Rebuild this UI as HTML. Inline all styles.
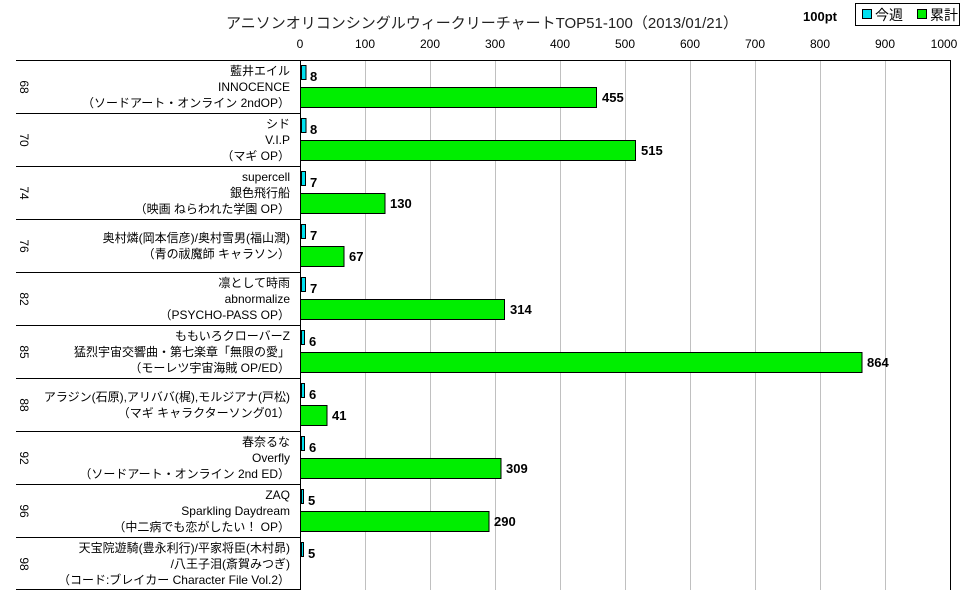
<!DOCTYPE html>
<html><head><meta charset="utf-8"><style>
body{margin:0;background:#fff;}
svg text{font-family:"Liberation Sans","Noto Sans CJK JP",sans-serif;}
</style></head><body>
<svg width="970" height="604" xmlns="http://www.w3.org/2000/svg">
<text x="482" y="28" font-size="15" text-anchor="middle" fill="#222">アニソンオリコンシングルウィークリーチャートTOP51-100（2013/01/21）</text>
<text x="820" y="21" font-size="13" font-weight="bold" text-anchor="middle">100pt</text>
<rect x="855.5" y="3.5" width="104" height="22" fill="#fff" stroke="#000"/>
<rect x="862.5" y="9.5" width="9" height="9" fill="#00e0f0" stroke="#000"/>
<text x="875" y="20" font-size="14">今週</text>
<rect x="917.5" y="9.5" width="9" height="9" fill="#00ee00" stroke="#000"/>
<text x="930" y="20" font-size="14">累計</text>
<g font-size="12" text-anchor="middle" fill="#000">
<text x="300" y="48">0</text><text x="365" y="48">100</text><text x="430" y="48">200</text><text x="495" y="48">300</text><text x="560" y="48">400</text><text x="625" y="48">500</text><text x="690" y="48">600</text><text x="755" y="48">700</text><text x="820" y="48">800</text><text x="885" y="48">900</text><text x="944" y="48">1000</text>
</g>
<g stroke="#c0c0c0">
<line x1="365.5" y1="60" x2="365.5" y2="590"/><line x1="430.5" y1="60" x2="430.5" y2="590"/><line x1="495.5" y1="60" x2="495.5" y2="590"/><line x1="560.5" y1="60" x2="560.5" y2="590"/><line x1="625.5" y1="60" x2="625.5" y2="590"/><line x1="690.5" y1="60" x2="690.5" y2="590"/><line x1="755.5" y1="60" x2="755.5" y2="590"/><line x1="820.5" y1="60" x2="820.5" y2="590"/><line x1="885.5" y1="60" x2="885.5" y2="590"/>
</g>
<g stroke="#000">
<line x1="16" y1="60.5" x2="950" y2="60.5"/>
<line x1="300.5" y1="60" x2="300.5" y2="590"/>
<line x1="950.5" y1="60" x2="950.5" y2="590"/>
<line x1="16" y1="113.5" x2="300" y2="113.5"/><line x1="16" y1="166.5" x2="300" y2="166.5"/><line x1="16" y1="219.5" x2="300" y2="219.5"/><line x1="16" y1="272.5" x2="300" y2="272.5"/><line x1="16" y1="325.5" x2="300" y2="325.5"/><line x1="16" y1="378.5" x2="300" y2="378.5"/><line x1="16" y1="431.5" x2="300" y2="431.5"/><line x1="16" y1="484.5" x2="300" y2="484.5"/><line x1="16" y1="537.5" x2="300" y2="537.5"/><line x1="16" y1="589.5" x2="300" y2="589.5"/>
</g>
<g font-size="12" fill="#000" text-anchor="end">
<text x="290" y="75">藍井エイル</text><text x="290" y="91">INNOCENCE</text><text x="290" y="107">（ソードアート・オンライン 2ndOP）</text>
<text x="290" y="128">シド</text><text x="290" y="144">V.I.P</text><text x="290" y="160">（マギ OP）</text>
<text x="290" y="181">supercell</text><text x="290" y="197">銀色飛行船</text><text x="290" y="213">（映画 ねらわれた学園 OP）</text>
<text x="290" y="242">奥村燐(岡本信彦)/奥村雪男(福山潤)</text><text x="290" y="258">（青の祓魔師 キャラソン）</text>
<text x="290" y="287">凛として時雨</text><text x="290" y="303">abnormalize</text><text x="290" y="319">（PSYCHO-PASS OP）</text>
<text x="290" y="340">ももいろクローバーZ</text><text x="290" y="356">猛烈宇宙交響曲・第七楽章「無限の愛」</text><text x="290" y="372">（モーレツ宇宙海賊 OP/ED）</text>
<text x="290" y="401">アラジン(石原),アリババ(梶),モルジアナ(戸松)</text><text x="290" y="417">（マギ キャラクターソング01）</text>
<text x="290" y="446">春奈るな</text><text x="290" y="462">Overfly</text><text x="290" y="478">（ソードアート・オンライン 2nd ED）</text>
<text x="290" y="499">ZAQ</text><text x="290" y="515">Sparkling Daydream</text><text x="290" y="531">（中二病でも恋がしたい！ OP）</text>
<text x="290" y="552">天宝院遊騎(豊永利行)/平家将臣(木村昴)</text><text x="290" y="568">/八王子泪(斎賀みつぎ)</text><text x="290" y="584">（コード:ブレイカー Character File Vol.2）</text>
</g>
<g font-size="12" fill="#000" text-anchor="middle">
<text transform="translate(20,87) rotate(90)">68</text>
<text transform="translate(20,140) rotate(90)">70</text>
<text transform="translate(20,193) rotate(90)">74</text>
<text transform="translate(20,246) rotate(90)">76</text>
<text transform="translate(20,299) rotate(90)">82</text>
<text transform="translate(20,352) rotate(90)">85</text>
<text transform="translate(20,405) rotate(90)">88</text>
<text transform="translate(20,458) rotate(90)">92</text>
<text transform="translate(20,511) rotate(90)">96</text>
<text transform="translate(20,564) rotate(90)">98</text>
</g>
<g stroke="#000" stroke-width="1">
<rect x="301.5" y="65.5" width="4.5" height="14" fill="#00e0f0"/><rect x="300.5" y="87.5" width="296" height="20" fill="#00ee00"/>
<rect x="301.5" y="118.5" width="4.5" height="14" fill="#00e0f0"/><rect x="300.5" y="140.5" width="335" height="20" fill="#00ee00"/>
<rect x="301.5" y="171.5" width="4" height="14" fill="#00e0f0"/><rect x="300.5" y="193.5" width="84.5" height="20" fill="#00ee00"/>
<rect x="301.5" y="224.5" width="4" height="14" fill="#00e0f0"/><rect x="300.5" y="246.5" width="43.5" height="20" fill="#00ee00"/>
<rect x="301.5" y="277.5" width="4" height="14" fill="#00e0f0"/><rect x="300.5" y="299.5" width="204" height="20" fill="#00ee00"/>
<rect x="301.5" y="330.5" width="3" height="14" fill="#00e0f0"/><rect x="300.5" y="352.5" width="561.5" height="20" fill="#00ee00"/>
<rect x="301.5" y="383.5" width="3" height="14" fill="#00e0f0"/><rect x="300.5" y="405.5" width="26.5" height="20" fill="#00ee00"/>
<rect x="301.5" y="436.5" width="3" height="14" fill="#00e0f0"/><rect x="300.5" y="458.5" width="200.5" height="20" fill="#00ee00"/>
<rect x="301.5" y="489.5" width="2" height="14" fill="#00e0f0"/><rect x="300.5" y="511.5" width="188.5" height="20" fill="#00ee00"/>
<rect x="301.5" y="542.5" width="2" height="14" fill="#00e0f0"/>
</g>
<g font-size="13" font-weight="bold" fill="#000">
<text x="310" y="81">8</text><text x="602" y="102">455</text>
<text x="310" y="134">8</text><text x="641" y="155">515</text>
<text x="310" y="187">7</text><text x="390" y="208">130</text>
<text x="310" y="240">7</text><text x="349" y="261">67</text>
<text x="310" y="293">7</text><text x="510" y="314">314</text>
<text x="309" y="346">6</text><text x="867" y="367">864</text>
<text x="309" y="399">6</text><text x="332" y="420">41</text>
<text x="309" y="452">6</text><text x="506" y="473">309</text>
<text x="308" y="505">5</text><text x="494" y="526">290</text>
<text x="308" y="558">5</text>
</g>
</svg>
</body></html>
